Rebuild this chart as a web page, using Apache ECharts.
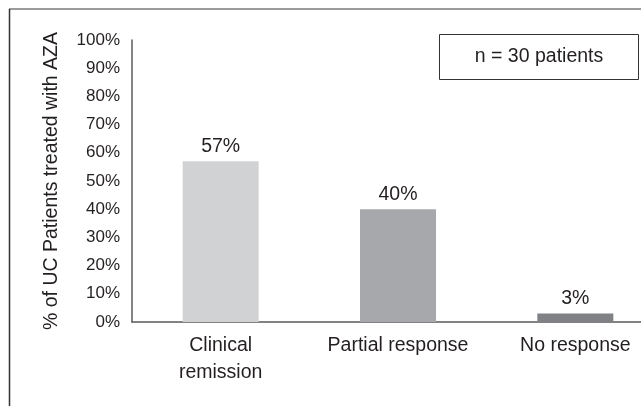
<!DOCTYPE html>
<html>
<head>
<meta charset="utf-8">
<script src="https://cdn.jsdelivr.net/npm/echarts@6/dist/echarts.min.js"></script>
<style>
html,body{margin:0;padding:0;background:#fff;}
#chart{width:641px;height:406px;}
</style>
</head>
<body>
<div id="chart"></div>
<script>
var categories = ['Clinical\nremission', 'Partial response', 'No response'];
var values = [57, 40, 3];
var barColors = ['#d1d2d4', '#a7a8ab', '#808184'];
var yTicks = [0, 10, 20, 30, 40, 50, 60, 70, 80, 90, 100];
var yAxisTitle = '% of UC Patients treated with AZA';
var noteText = 'n = 30 patients';

var textColor = '#231f20';
var chart = echarts.init(document.getElementById('chart'));
chart.setOption({
  backgroundColor: '#fff',
  animation: false,
  textStyle: { fontFamily: 'Liberation Sans, Arial, sans-serif', color: textColor },
  grid: { left: 132, top: 40, width: 532, bottom: 84, containLabel: false, outerBoundsMode: 'none' },
  xAxis: {
    type: 'category',
    data: categories,
    axisLine: { show: true, lineStyle: { color: '#5a5a5a', width: 1.5 } },
    axisTick: { show: false },
    axisLabel: { color: textColor, fontSize: 19.5, margin: 10, lineHeight: 27, interval: 0 },
    splitLine: { show: false }
  },
  yAxis: {
    type: 'value',
    min: yTicks[0],
    max: yTicks[yTicks.length - 1],
    interval: 10,
    name: yAxisTitle,
    nameLocation: 'middle',
    nameRotate: 90,
    nameGap: 70,
    nameTextStyle: { color: textColor, fontSize: 19.5 },
    axisLine: { show: true, lineStyle: { color: '#5a5a5a', width: 1.5 } },
    axisTick: { show: false },
    splitLine: { show: false },
    axisLabel: { color: textColor, fontSize: 17, margin: 12, formatter: '{value}%' }
  },
  series: [{
    type: 'bar',
    barWidth: 76,
    data: values.map(function (v, i) { return { value: v, itemStyle: { color: barColors[i] } }; }),
    label: { show: true, position: 'top', distance: 5, color: textColor, fontSize: 19.5, formatter: '{c}%' }
  }],
  graphic: [
    { type: 'line', shape: { x1: 9, y1: 9, x2: 641, y2: 9 }, style: { stroke: '#7a7a7a', lineWidth: 1.5 }, silent: true },
    { type: 'line', shape: { x1: 9.5, y1: 9, x2: 9.5, y2: 406 }, style: { stroke: '#333', lineWidth: 1.5 }, silent: true },
    { type: 'rect', shape: { x: 439.5, y: 34.5, width: 199, height: 45 }, style: { fill: '#fff', stroke: '#333', lineWidth: 1 }, silent: true },
    { type: 'text', x: 539, y: 57, style: { text: noteText, fill: textColor, fontSize: 19.5, fontFamily: 'Liberation Sans, Arial, sans-serif', align: 'center', verticalAlign: 'middle' }, silent: true }
  ]
});
</script>
</body>
</html>
